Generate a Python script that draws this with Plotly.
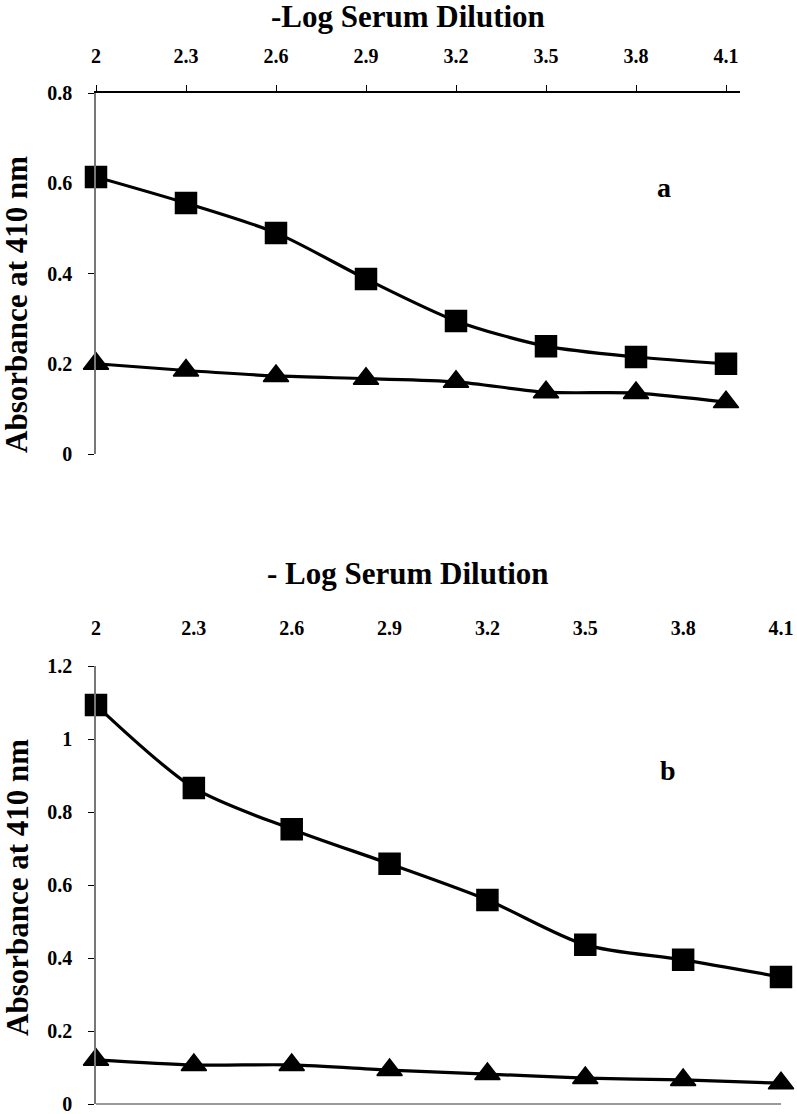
import plotly.graph_objects as go

# ---- data ----
dilution = [2, 2.3, 2.6, 2.9, 3.2, 3.5, 3.8, 4.1]
tick_labels = ["2", "2.3", "2.6", "2.9", "3.2", "3.5", "3.8", "4.1"]

a_square = [0.614, 0.556, 0.490, 0.388, 0.295, 0.239, 0.215, 0.200]
a_triangle = [0.200, 0.185, 0.173, 0.167, 0.160, 0.137, 0.135, 0.115]

b_square = [1.093, 0.866, 0.753, 0.658, 0.559, 0.436, 0.395, 0.348]
b_triangle = [0.121, 0.107, 0.107, 0.093, 0.082, 0.071, 0.066, 0.057]

W, H = 797, 1114
FONT = "Liberation Serif, Times New Roman, DejaVu Serif, serif"

def px_x(p):
    return p / W

def px_y(p):
    return 1 - p / H

fig = go.Figure()

def add_series(x, y, xa, ya, symbol, size):
    fig.add_trace(go.Scatter(
        x=x, y=y, xaxis=xa, yaxis=ya, mode="lines+markers",
        line=dict(color="black", width=3.2, shape="spline", smoothing=0.8),
        marker=dict(symbol=symbol, size=size, color="black",
                    line=dict(color="black", width=1.5)),
        cliponaxis=False, showlegend=False, hoverinfo="x+y"))

add_series(dilution, a_square, "x", "y", "square", 21)
add_series(dilution, a_triangle, "x", "y", "triangle-up", 22)
add_series(dilution, b_square, "x2", "y2", "square", 21)
add_series(dilution, b_triangle, "x2", "y2", "triangle-up", 22)

tickfont = dict(family=FONT, size=20, color="black", weight="bold")
titlefont = dict(family=FONT, size=31, color="black", weight="bold")

xa_dom = [px_x(96), px_x(740)]
xb_dom = [px_x(96), px_x(781)]
ya_dom = [px_y(454), px_y(93)]
yb_dom = [px_y(1104), px_y(666)]

fig.update_layout(
    width=W, height=H,
    margin=dict(l=0, r=0, t=0, b=0, autoexpand=False),
    paper_bgcolor="white", plot_bgcolor="white",
    font=dict(family=FONT, color="black"),
    xaxis=dict(domain=xa_dom, anchor="y", side="top", automargin=False,
               range=[2, 2 + (740 - 96) / 300.0],
               tickvals=dilution, ticktext=tick_labels,
               showline=True, linecolor="black", linewidth=1.5,
               ticks="outside", ticklen=6, tickcolor="black", tickwidth=1.2,
               tickfont=tickfont, ticklabelstandoff=14,
               ticklabeloverflow="allow",
               showgrid=False, zeroline=False),
    yaxis=dict(domain=ya_dom, anchor="x", range=[0, 0.8], dtick=0.2,
               automargin=False,
               showline=True, linecolor="#777777", linewidth=1.5,
               ticks="outside", ticklen=6, tickcolor="black", tickwidth=1.2,
               tickfont=tickfont, ticklabelstandoff=12,
               ticklabeloverflow="allow",
               showgrid=False, zeroline=False),
    xaxis2=dict(domain=xb_dom, anchor="y2", side="top", automargin=False,
                range=[2, 4.1],
                tickvals=dilution, ticktext=tick_labels,
                showline=False, ticks="",
                tickfont=tickfont, ticklabelstandoff=26,
                ticklabeloverflow="allow",
                showgrid=False, zeroline=False),
    yaxis2=dict(domain=yb_dom, anchor="x2", range=[0, 1.2], dtick=0.2,
                automargin=False,
                showline=True, linecolor="#777777", linewidth=1.5,
                ticks="outside", ticklen=6, tickcolor="black", tickwidth=1.2,
                tickfont=tickfont, ticklabelstandoff=12,
                ticklabeloverflow="allow",
                showgrid=False, zeroline=True, zerolinecolor="#9a9a9a",
                zerolinewidth=1.5),
)

annotations = [
    dict(text="-Log Serum Dilution", x=px_x(408), y=px_y(17),
         font=titlefont),
    dict(text="- Log Serum Dilution", x=px_x(408), y=px_y(573),
         font=titlefont),
    dict(text="Absorbance at 410 nm", x=px_x(17), y=px_y(305),
         textangle=-90, font=titlefont),
    dict(text="Absorbance at 410 nm", x=px_x(17), y=px_y(888),
         textangle=-90, font=titlefont),
    dict(text="a", x=px_x(664), y=px_y(188),
         font=dict(family=FONT, size=28, color="black", weight="bold")),
    dict(text="b", x=px_x(668), y=px_y(770),
         font=dict(family=FONT, size=28, color="black", weight="bold")),
]
for a in annotations:
    a.update(xref="paper", yref="paper", showarrow=False,
             xanchor="center", yanchor="middle")
fig.update_layout(annotations=annotations)

fig.write_html(
    "out.html",
    config={"displayModeBar": False},
    post_script="document.body.style.margin='0';document.body.style.overflow='hidden';",
)
